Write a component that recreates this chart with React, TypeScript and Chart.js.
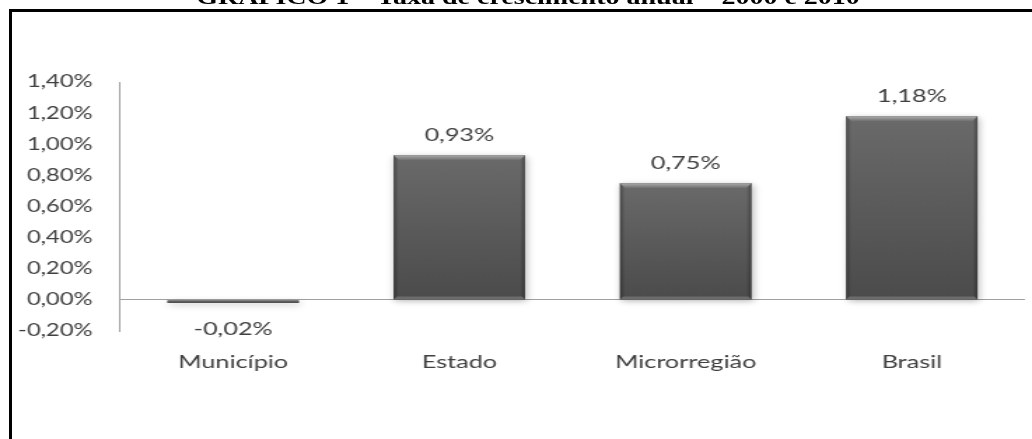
import React, { useEffect, useRef } from "react";
import { Chart, registerables } from "chart.js";

Chart.register(...registerables);

// ---- data ----
const title = "GRÁFICO 1 – Taxa de crescimento anual – 2000 e 2010";
const categories = ["Município", "Estado", "Microrregião", "Brasil"];
const values = [-0.02, 0.93, 0.75, 1.18];
const yTicks = [-0.2, 0, 0.2, 0.4, 0.6, 0.8, 1.0, 1.2, 1.4];

// ---- layout ----
const W = 1032;
const H = 439;
const STRETCH = 1.4;
const CW = Math.round(W / STRETCH);

const fmt = (v: number) => (Math.abs(v) < 1e-9 ? 0 : v).toFixed(2).replace(".", ",") + "%";

const barStyle = {
  id: "barStyle",
  beforeDatasetsDraw(chart: any) {
    const ctx = chart.ctx;
    ctx.save();
    ctx.shadowColor = "rgba(0,0,0,0.3)";
    ctx.shadowBlur = 6;
    ctx.shadowOffsetX = 1.2;
    ctx.shadowOffsetY = 2;
  },
  afterDatasetsDraw(chart: any) {
    const ctx = chart.ctx;
    ctx.restore();
    const meta = chart.getDatasetMeta(0);
    meta.data.forEach((el: any, i: number) => {
      const { x, y, base, width } = el.getProps(["x", "y", "base", "width"], true);
      const l = x - width / 2;
      const r = x + width / 2;
      const t = Math.min(y, base);
      const b = Math.max(y, base);
      const h = b - t;
      ctx.save();
      const g = ctx.createLinearGradient(0, t, 0, b);
      g.addColorStop(0, "#6a6a6a");
      g.addColorStop(1, "#4b4b4b");
      ctx.fillStyle = g;
      ctx.fillRect(l, t, width, h);
      if (h > 10) {
        const sw = 5 / STRETCH;
        const gl = ctx.createLinearGradient(l, 0, l + sw, 0);
        gl.addColorStop(0, "rgba(0,0,0,0.3)");
        gl.addColorStop(1, "rgba(0,0,0,0)");
        ctx.fillStyle = gl;
        ctx.fillRect(l, t, sw, h);
        const gr = ctx.createLinearGradient(r, 0, r - sw, 0);
        gr.addColorStop(0, "rgba(0,0,0,0.3)");
        gr.addColorStop(1, "rgba(0,0,0,0)");
        ctx.fillStyle = gr;
        ctx.fillRect(r - sw, t, sw, h);
        // top bevel
        const bv = 5;
        const bx = bv / STRETCH;
        ctx.beginPath();
        ctx.moveTo(l, t);
        ctx.lineTo(r, t);
        ctx.lineTo(r - bx, t + bv);
        ctx.lineTo(l + bx, t + bv);
        ctx.closePath();
        const gt = ctx.createLinearGradient(0, t, 0, t + bv);
        gt.addColorStop(0, "#adadad");
        gt.addColorStop(1, "#6e6e6e");
        ctx.fillStyle = gt;
        ctx.fill();
        // bottom bevel
        ctx.beginPath();
        ctx.moveTo(l, b);
        ctx.lineTo(r, b);
        ctx.lineTo(r - 3 / STRETCH, b - 3);
        ctx.lineTo(l + 3 / STRETCH, b - 3);
        ctx.closePath();
        ctx.fillStyle = "#6c6c6c";
        ctx.fill();
      }
      ctx.restore();
      // value label
      const v = values[i];
      ctx.save();
      ctx.font = "18px Lato";
      ctx.fillStyle = "#404040";
      ctx.textAlign = "center";
      ctx.textBaseline = "alphabetic";
      ctx.fillText(fmt(v), x, v >= 0 ? y - 14.5 : y + 32.5);
      ctx.restore();
    });
  },
};

export default function App() {
  const ref = useRef<HTMLCanvasElement | null>(null);

  useEffect(() => {
    if (!ref.current) return;
    const chart = new Chart(ref.current, {
      type: "bar",
      data: {
        labels: categories,
        datasets: [
          {
            data: values,
            backgroundColor: "#555555",
            borderWidth: 0,
            barPercentage: 0.58,
            categoryPercentage: 1,
          },
        ],
      },
      options: {
        animation: false,
        responsive: false,
        maintainAspectRatio: false,
        devicePixelRatio: 1,
        layout: { padding: { top: 82, right: CW - 732, bottom: 0, left: 0 } },
        plugins: {
          legend: { display: false },
          tooltip: { enabled: false },
          title: { display: false },
        },
        scales: {
          x: {
            grid: { display: false, drawTicks: false },
            border: { display: false },
            ticks: {
              color: "#404040",
              font: { family: "Lato", size: 18 },
              padding: 20,
              maxRotation: 0,
              autoSkip: false,
            },
            afterFit: (s: any) => {
              s.height = H - 331;
            },
          },
          y: {
            min: -0.2,
            max: 1.4,
            afterBuildTicks: (s: any) => {
              s.ticks = yTicks.map((v) => ({ value: v }));
            },
            grid: {
              drawTicks: false,
              color: (c: any) => (c.tick && Math.abs(c.tick.value) < 1e-9 ? "#a0a0a0" : "rgba(0,0,0,0)"),
              lineWidth: 1,
            },
            border: { display: true, color: "#a0a0a0", width: 1 },
            ticks: {
              color: "#404040",
              font: { family: "Lato", size: 17 },
              padding: 19.5,
              callback: (v: any) => fmt(Number(v)),
            },
            afterFit: (s: any) => {
              s.width = 120 / STRETCH;
            },
          },
        },
      },
      plugins: [barStyle],
    });
    return () => chart.destroy();
  }, []);

  return (
    <div
      style={{
        position: "fixed",
        left: 0,
        top: 0,
        width: W,
        height: H,
        overflow: "hidden",
        background: "#ffffff",
      }}
    >
      <canvas
        ref={ref}
        width={CW}
        height={H}
        style={{ position: "absolute", left: 0, top: 0, width: W + "px", height: H + "px" }}
      />
      <div style={{ position: "absolute", left: 1027, top: 12, width: W - 1027, height: H - 12, background: "#ffffff" }} />
      <div
        style={{
          position: "absolute",
          left: 528,
          top: -13,
          whiteSpace: "nowrap",
          fontFamily: "'Liberation Serif', 'Times New Roman', serif",
          fontWeight: "bold",
          fontSize: 20,
          lineHeight: "20px",
          color: "#000",
          transform: `translateX(-50%) scaleX(${STRETCH})`,
        }}
      >
        {title}
      </div>
      <div style={{ position: "absolute", left: 9, top: 9, width: W - 9, height: 3, background: "#000" }} />
      <div style={{ position: "absolute", left: 9, top: 9, width: 3, height: H - 9, background: "#000" }} />
    </div>
  );
}
